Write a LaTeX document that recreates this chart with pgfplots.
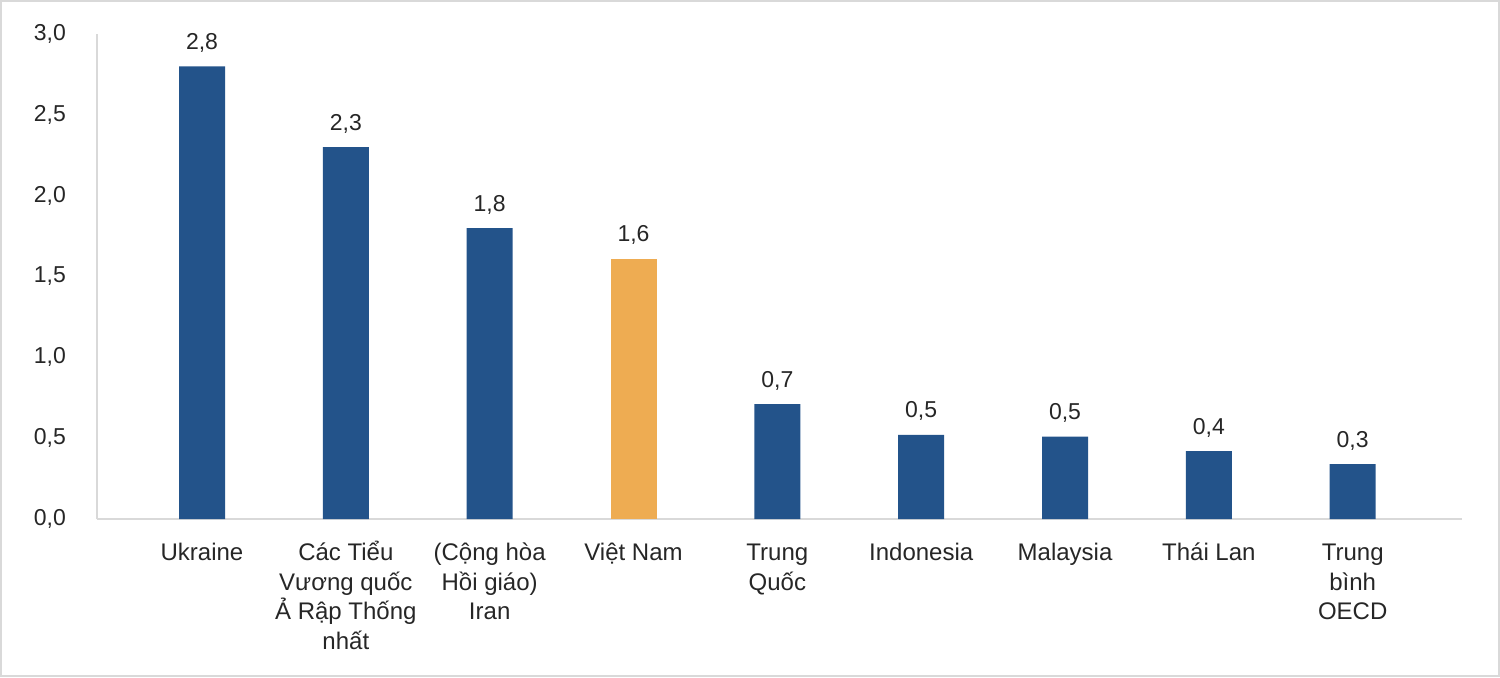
\documentclass[border=0pt]{standalone}
\usepackage{fontspec}
\setmainfont{Liberation Sans}
\usepackage{pgfplots}
\pgfplotsset{compat=1.18}
\definecolor{barblue}{HTML}{23538A}
\definecolor{barorange}{HTML}{EEAC52}
\definecolor{axgray}{HTML}{D9D9D9}
\definecolor{txt}{HTML}{262626}
\begin{document}
\begin{tikzpicture}
\useasboundingbox (0,0) rectangle (750pt,338.5pt);
\draw[axgray, line width=1pt] (0.5pt,0.5pt) rectangle (749.5pt,338pt);
\begin{axis}[
  at={(48.5pt,79pt)}, anchor=south west,
  scale only axis, width=682.5pt, height=242.5pt,
  xmin=-0.73, xmax=8.76, ymin=0, ymax=3,
  axis lines*=left,
  axis line style={axgray, line width=1pt},
  major tick length=0pt,
  ybar, bar width=23pt,
  clip=false,
  ytick={0,0.5,1,1.5,2,2.5,3},
  /pgf/number format/assume math mode=true,
  yticklabel style={font=\fontsize{11.5}{13}\selectfont, text=txt, xshift=-12pt,
    /pgf/number format/.cd, fixed, fixed zerofill, precision=1, use comma},
  xtick={0,1,2,3,4,5,6,7,8},
  xticklabels={{\vphantom{Ể}Ukraine},{\vphantom{Ể}Các Tiểu\\Vương quốc\\Ả Rập Thống\\nhất},{\vphantom{Ể}(Cộng hòa\\Hồi giáo)\\Iran},{\vphantom{Ể}Việt Nam},{\vphantom{Ể}Trung\\Quốc},{\vphantom{Ể}Indonesia},{\vphantom{Ể}Malaysia},{\vphantom{Ể}Thái Lan},{\vphantom{Ể}Trung\\bình\\OECD}},
  xticklabel style={align=center, font=\fontsize{12}{14.75}\selectfont, text=txt, yshift=-6.5pt},
  nodes near coords,
  every node near coord/.append style={font=\fontsize{11.5}{13}\selectfont, text=txt, yshift=3.5pt,
    /pgf/number format/.cd, fixed, fixed zerofill, precision=1, use comma},
]
\addplot[fill=barblue, draw=none, bar shift=0pt] coordinates {(0,2.80) (1,2.30) (2,1.80) (4,0.71) (5,0.52) (6,0.51) (7,0.42) (8,0.34)};
\addplot[fill=barorange, draw=none, bar shift=0pt] coordinates {(3,1.61)};
\end{axis}
\end{tikzpicture}
\end{document}
